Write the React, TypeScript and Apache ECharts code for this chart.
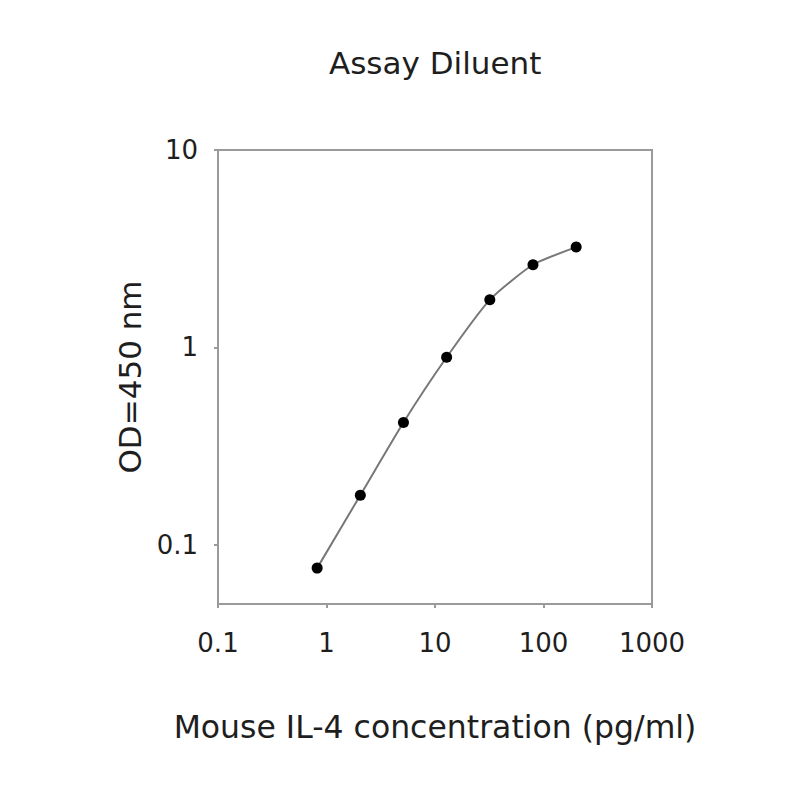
import React, { useEffect, useRef } from "react";
import * as echarts from "echarts";

const chartTitle = "Assay Diluent";
const xAxisName = "Mouse IL-4 concentration (pg/ml)";
const yAxisName = "OD=450 nm";
const concentrations = [0.82, 2.05, 5.12, 12.8, 32, 80, 200];
const odValues = [0.076, 0.178, 0.416, 0.89, 1.74, 2.62, 3.22];
const xTicks = [0.1, 1, 10, 100, 1000];
const xTickLabels = ["0.1", "1", "10", "100", "1000"];
const yTicks = [0.1, 1, 10];
const yTickLabels = ["0.1", "1", "10"];

const FONT = "DejaVu Sans";
const AXIS_GRAY = "#9a9a9a";
const TEXT = "#1e1e1e";

function makeFormatter(ticks: number[], labels: string[]) {
  return (v: number) => {
    const i = ticks.findIndex((t) => Math.abs(Math.log10(t) - Math.log10(v)) < 1e-6);
    return i >= 0 ? labels[i] : "";
  };
}

export default function App() {
  const ref = useRef<HTMLDivElement>(null);
  useEffect(() => {
    const chart = echarts.init(ref.current!, null, { renderer: "svg" });
    const points = concentrations.map((c, i) => [c, odValues[i]]);
    chart.setOption({
      animation: false,
      backgroundColor: "#fff",
      title: {
        text: chartTitle,
        left: 324,
        top: 42,
        textStyle: { fontFamily: FONT, fontSize: 31, fontWeight: "normal", color: TEXT },
      },
      grid: {
        left: 218,
        top: 150,
        right: 148,
        bottom: 196,
        show: true,
        borderColor: AXIS_GRAY,
        borderWidth: 2,
        backgroundColor: "transparent",
      },
      xAxis: {
        type: "log",
        logBase: 10,
        min: 0.1,
        max: 1000,
        name: xAxisName,
        nameLocation: "middle",
        nameGap: 107,
        nameTextStyle: { fontFamily: FONT, fontSize: 31.5, color: TEXT },
        axisLine: { show: true, lineStyle: { color: AXIS_GRAY, width: 2 } },
        axisTick: { show: true, length: 4, customValues: xTicks, lineStyle: { color: AXIS_GRAY, width: 2 } },
        axisLabel: {
          customValues: xTicks,
          margin: 26,
          fontFamily: FONT,
          fontSize: 26,
          color: TEXT,
          formatter: makeFormatter(xTicks, xTickLabels),
        },
        splitLine: { show: false },
        minorTick: { show: false },
      },
      yAxis: {
        type: "log",
        logBase: 10,
        min: 0.05,
        max: 10,
        name: yAxisName,
        nameLocation: "middle",
        nameGap: 73,
        nameTextStyle: { fontFamily: FONT, fontSize: 31, color: TEXT },
        axisLine: { show: true, lineStyle: { color: AXIS_GRAY, width: 2 } },
        axisTick: { show: true, length: 4, customValues: yTicks, lineStyle: { color: AXIS_GRAY, width: 2 } },
        axisLabel: {
          customValues: yTicks,
          margin: 20,
          fontFamily: FONT,
          fontSize: 26,
          color: TEXT,
          formatter: makeFormatter(yTicks, yTickLabels),
        },
        splitLine: { show: false },
        minorTick: { show: false },
      },
      series: [
        {
          type: "line",
          data: points,
          smooth: 0.2,
          symbol: "circle",
          symbolSize: 11,
          itemStyle: { color: "#000" },
          lineStyle: { color: "#777", width: 2 },
          z: 5,
        },
      ],
    });
    return () => chart.dispose();
  }, []);
  return (
    <div
      ref={ref}
      style={{ position: "fixed", left: 0, top: 0, width: 800, height: 800 }}
    />
  );
}
